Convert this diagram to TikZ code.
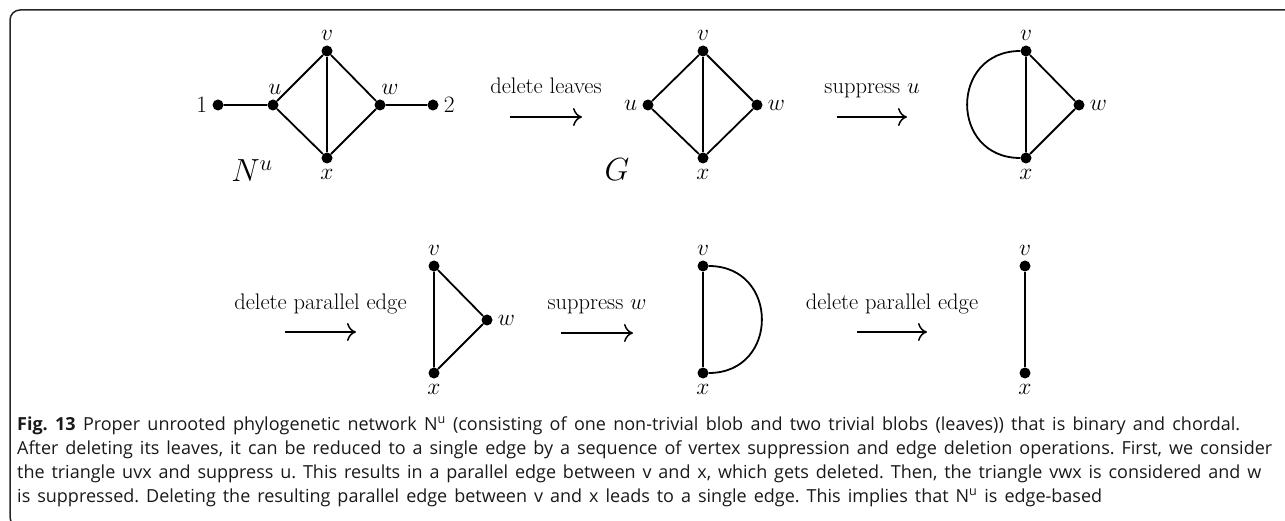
\RequirePackage{fix-cm}
\documentclass[tikz,border=0pt]{standalone}
\usepackage{fontspec}
\newfontfamily\capfont{Open Sans}
\usetikzlibrary{arrows.meta}
\frenchspacing

\tikzset{
  vtx/.style={circle, fill=black, inner sep=0pt, minimum size=11pt},
  edge/.style={line width=1.8pt},
  sarrow/.style={line width=1.6pt,
    -{Computer Modern Rightarrow[length=9pt, width=18pt, line width=1.5pt]}},
  optxt/.style={font=\fontsize{22.5}{27}\selectfont, inner sep=0pt, anchor=base, yshift=23pt},
  bigname/.style={font=\fontsize{32}{38}\selectfont, inner sep=0pt, anchor=base},
  capt/.style={font=\capfont\fontsize{18}{22}\selectfont, inner sep=0pt, anchor=base west, text=black!90},
  frame/.style={line width=1.5pt, draw=black!85, rounded corners=10pt},
}

\begin{document}
\begin{tikzpicture}[x=1pt, y=-1pt,
  every label/.style={font=\fontsize{23.5}{28}\selectfont, inner sep=0pt},
  label distance=5pt]
\useasboundingbox (0,0) rectangle (1285,521);
\begin{scope}
\clip (0,0) rectangle (1285,521);
\draw[frame] (10,10) rectangle (1300,527);
\end{scope}

% ---- network N^u with its two leaves
\node[vtx, label={left:$1$}]  (l1) at (218,105) {};
\node[vtx, label={[xshift=2pt]above:$u$}] (u1) at (273,105) {};
\node[vtx, label={above:$v$}] (v1) at (327,51) {};
\node[vtx, label={[xshift=10pt]above:$w$}] (w1) at (380,105) {};
\node[vtx, label={right:$2$}] (l2) at (433,105) {};
\node[vtx, label={below:$x$}] (x1) at (327,158) {};
\draw[edge] (l1) -- (u1) -- (v1) -- (w1) -- (l2);
\draw[edge] (u1) -- (x1) -- (w1);
\draw[edge] (v1) -- (x1);
\node[bigname] (nu) at (252,182) {$N^u$};

% ---- step 1: delete leaves
\coordinate (a1s) at (510,117);
\coordinate (a1e) at (582,117);
\draw[sarrow] (a1s) -- node[optxt] (t1) {delete leaves} (a1e);

% ---- graph G
\node[vtx, label={left:$u$}]  (u2) at (648,105) {};
\node[vtx, label={above:$v$}] (v2) at (703,51) {};
\node[vtx, label={right:$w$}] (w2) at (757,105) {};
\node[vtx, label={below:$x$}] (x2) at (703,158) {};
\draw[edge] (u2) -- (v2) -- (w2) -- (x2) -- (u2);
\draw[edge] (v2) -- (x2);
\node[bigname] (g) at (617,181) {$G$};

% ---- step 2: suppress u
\coordinate (a2s) at (837,117);
\coordinate (a2e) at (907,117);
\draw[sarrow] (a2s) -- node[optxt] (t2) {suppress $u$} (a2e);

% ---- graph after suppressing u
\node[vtx, label={above:$v$}] (v3) at (1026,51) {};
\node[vtx, label={right:$w$}] (w3) at (1079,105) {};
\node[vtx, label={below:$x$}] (x3) at (1026,158) {};
\draw[edge] (v3) -- (w3) -- (x3) -- (v3);
\draw[edge] (v3) to[out=180, in=180, looseness=1.7] (x3);

% ---- step 3: delete parallel edge
\coordinate (a3s) at (285,332);
\coordinate (a3e) at (356,332);
\draw[sarrow] (a3s) -- node[optxt] (t3) {delete parallel edge} (a3e);

% ---- triangle v w x
\node[vtx, label={above:$v$}] (v4) at (434,266) {};
\node[vtx, label={right:$w$}] (w4) at (487,320) {};
\node[vtx, label={below:$x$}] (x4) at (434,373) {};
\draw[edge] (v4) -- (w4) -- (x4) -- (v4);

% ---- step 4: suppress w
\coordinate (a4s) at (561,333);
\coordinate (a4e) at (633,333);
\draw[sarrow] (a4s) -- node[optxt] (t4) {suppress $w$} (a4e);

% ---- parallel edges between v and x
\node[vtx, label={above:$v$}] (v5) at (703,266) {};
\node[vtx, label={below:$x$}] (x5) at (703,373) {};
\draw[edge] (v5) -- (x5);
\draw[edge] (v5) to[out=0, in=0, looseness=1.7] (x5);

% ---- step 5: delete parallel edge
\coordinate (a5s) at (857,332);
\coordinate (a5e) at (927,332);
\draw[sarrow] (a5s) -- node[optxt] (t5) {delete parallel edge} (a5e);

% ---- single edge
\node[vtx, label={above:$v$}] (v6) at (1025,266) {};
\node[vtx, label={below:$x$}] (x6) at (1025,373) {};
\draw[edge] (v6) -- (x6);

% ---- caption
\node[capt] (c1) at (17,430) {\makebox[1223pt][s]{\textbf{Fig. 13} Proper unrooted phylogenetic network N\textsuperscript{u} (consisting of one non-trivial blob and two trivial blobs (leaves)) that is binary and chordal.}};
\node[capt] (c2) at (17,454) {\makebox[1255pt][s]{After deleting its leaves, it can be reduced to a single edge by a sequence of vertex suppression and edge deletion operations. First, we consider}};
\node[capt] (c3) at (17,478) {\makebox[1244pt][s]{the triangle uvx and suppress u. This results in a parallel edge between v and x, which gets deleted. Then, the triangle vwx is considered and w}};
\node[capt] (c4) at (17,502) {\makebox[1085pt][s]{is suppressed. Deleting the resulting parallel edge between v and x leads to a single edge. This implies that N\textsuperscript{u} is edge-based}};
\end{tikzpicture}
\end{document}
